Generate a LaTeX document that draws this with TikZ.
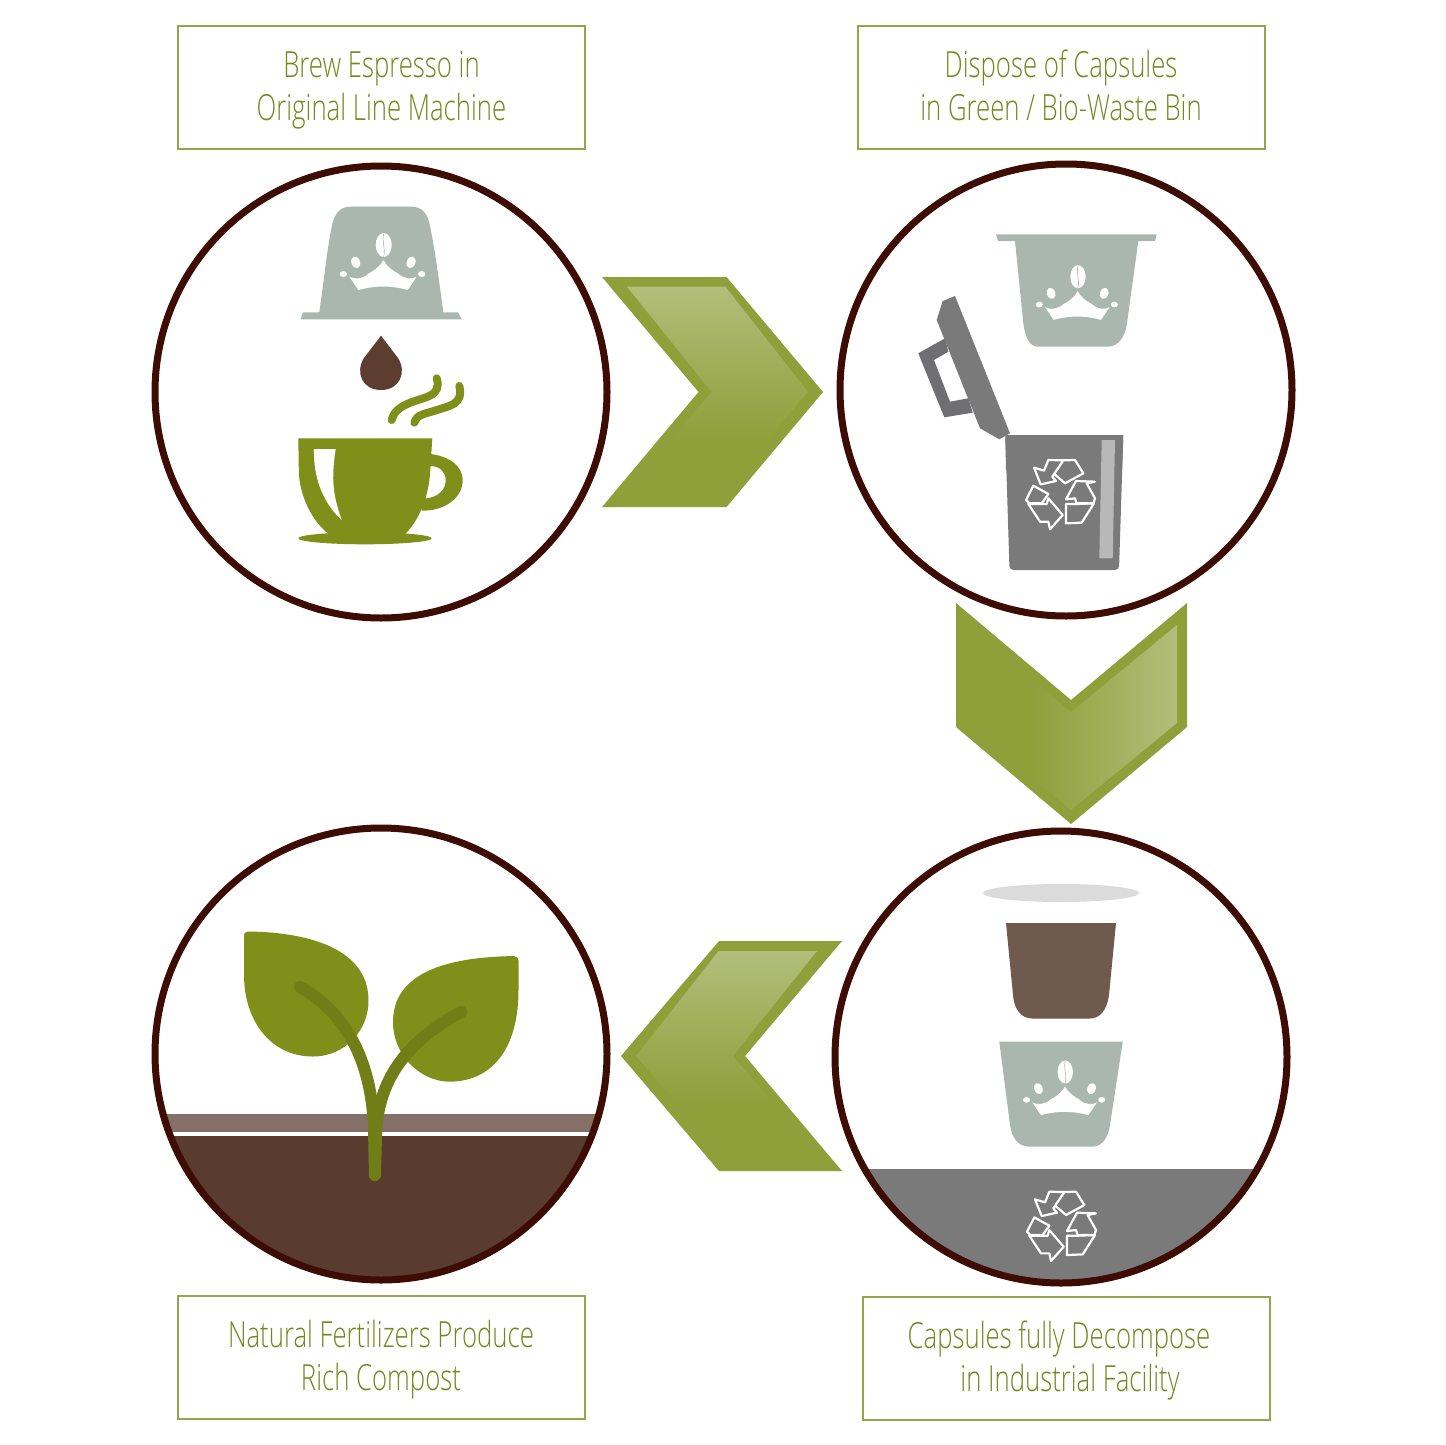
\documentclass[tikz,border=0pt]{standalone}
\usepackage{fontspec}
\setmainfont{Open Sans Light}[FakeStretch=0.715]
\definecolor{ringc}{HTML}{3D0C02}
\definecolor{leafg}{HTML}{7E8F1A}
\definecolor{stemg}{HTML}{707E17}
\definecolor{capc}{HTML}{A9B7B0}
\definecolor{greyc}{HTML}{7B7A7B}
\definecolor{handc}{HTML}{6F6E70}
\definecolor{dropc}{HTML}{5C3D30}
\definecolor{podc}{HTML}{705A4E}
\definecolor{soilc}{HTML}{5A3C2F}
\definecolor{bandc}{HTML}{857068}
\definecolor{textg}{HTML}{76871F}
\definecolor{boxg}{HTML}{94A54E}
\definecolor{chevb}{HTML}{8F9F3A}
\definecolor{chevl}{HTML}{B2BE7A}
\newcommand\lblA{\rule{0pt}{35.5pt}}
\newcommand\lblB{\rule[-12.9pt]{0pt}{12.9pt}}
\tikzset{
  ringcirc/.style={draw=ringc,line width=7pt},
  lblbox/.style={draw=boxg,line width=2pt,minimum width=407pt,minimum height=123pt,inner sep=0pt,
    align=center,text=textg,font=\fontsize{36}{43}\selectfont},
  steam/.style={draw=leafg,line width=8pt,line cap=round},
  stemline/.style={draw=stemg,line width=12pt,line cap=round},
  recyc/.style={draw=white,line width=2.2pt,line join=round},
  crownmark/.pic={
    \begin{scope}[scale=.3333,shift={(-143,-185)}]
    \fill[white] (43,155) .. controls (55,163) and (82,163) .. (100,146) .. controls (118,136) and (135,125) .. (145,105)
      .. controls (155,125) and (172,136) .. (190,146) .. controls (208,163) and (232,163) .. (245,155)
      -- (218,195) .. controls (170,181) and (120,181) .. (70,195) -- cycle;
    \fill[white] (62,112) ellipse[x radius=13,y radius=18,rotate=20];
    \fill[white] (228,112) ellipse[x radius=13,y radius=18,rotate=-20];
    \fill[white] (25,147) ellipse[x radius=11,y radius=9];
    \fill[white] (260,147) ellipse[x radius=11,y radius=9];
    \fill[white] (146,60) ellipse[x radius=24,y radius=36];
    \draw[capc,line width=.6pt] (146,26) .. controls (140,50) and (152,70) .. (146,95);
    \end{scope}
  },
  recycmark/.pic={
    \begin{scope}[scale=.3333,shift={(-120,-120)}]
    \draw[recyc] (42,38) -- (72,47) -- (85,15) -- (130,16) -- (97,65) -- (108,78) -- (62,88) -- cycle;
    \draw[recyc] (130,16) -- (165,15) -- (190,55) -- (135,85) -- (103,57);
    \draw[recyc] (18,135) -- (40,92) -- (85,117) -- (65,145) -- (28,145) -- cycle;
    \draw[recyc] (25,147) -- (60,200) -- (85,200) -- (90,223) -- (128,180) -- (85,130) -- (80,147) -- cycle;
    \draw[recyc] (225,80) -- (168,78) -- (138,133) -- (165,130) -- (170,145) -- (220,145) -- (225,130) -- (200,85) -- cycle;
    \draw[recyc] (138,147) -- (138,205) -- (185,203) -- (222,145) -- (170,147) -- cycle;
    \end{scope}
  }
}
\begin{document}
\begin{tikzpicture}[x=1pt,y=-1pt]
\useasboundingbox (0,0) rectangle (1445,1445);
\fill[white] (0,0) rectangle (1445,1445);

% text boxes
\node[lblbox] (boxa) at (381.5,87.5) {\lblA Brew Espresso in\\\lblB Original Line Machine};
\node[lblbox] (boxb) at (1061,87.5) {\lblA Dispose of Capsules\\\lblB in Green / Bio-Waste Bin};
\node[lblbox] (boxc) at (381,1357.5) {\lblA Natural Fertilizers Produce\\\lblB Rich Compost};
\node[lblbox] (boxd) at (1066.5,1358.5) {\lblA\hspace*{-15pt}Capsules fully Decompose\\\lblB\hspace*{7pt}in Industrial Facility};

% chevrons
\fill[chevb] (602,277) -- (726.5,277) -- (823,392) -- (726.5,507) -- (602,507) -- (698.5,392) -- cycle;
\shade[top color=chevl,bottom color=chevb] (627,286.7) -- (725.5,286.7) -- (808,392) -- (767,440) -- (670,440) -- (711.5,392) -- cycle;
\fill[chevb] (956,603) -- (1071,700) -- (1187,603) -- (1187,727) -- (1071,824) -- (956,727) -- cycle;
\shade[left color=chevb,right color=chevl] (1032,680) -- (1071,712) -- (1177,625) -- (1177,723) -- (1071,810) -- (1032,778) -- cycle;
\fill[chevb] (842,941) -- (719,941) -- (621,1056) -- (719,1171) -- (842,1171) -- (745,1056) -- cycle;
\shade[top color=chevl,bottom color=chevb] (817,951) -- (718.5,951) -- (636,1056) -- (677,1104) -- (774,1104) -- (733,1056) -- cycle;

% circle 1: capsule, drop, cup
\fill[capc] (300.7,319.3) -- (303,312.3) -- (319.3,312.3)
  .. controls (324,280) and (327,250) .. (331.7,226.7) .. controls (334,214) and (340,206.7) .. (350,206.7)
  -- (412,206.7) .. controls (422,206.7) and (428,214) .. (430,226)
  .. controls (435,250) and (439,280) .. (443.3,312.3) -- (458,312.3) -- (461.7,319.3) -- cycle;
\pic at (382.7,286.7) {crownmark};
\fill[dropc] (381,335.7) -- (364,358) .. controls (355,372) and (362,390) .. (381,390)
  .. controls (400,390) and (407,372) .. (398,358) -- cycle;
\draw[steam] (436.7,378.3) .. controls (442,396) and (425,397) .. (415,401) .. controls (403,405) and (394,410) .. (391.7,420);
\draw[steam] (459.3,386) .. controls (464,405) and (448,406) .. (437,410) .. controls (425,414) and (417,414) .. (414.3,422.7);
\fill[leafg,even odd rule] (430,454) .. controls (448,456) and (463,465) .. (462.7,481)
  .. controls (462,498) and (445,511) .. (421.7,510.7) -- (420,498) -- (426.7,498.3)
  .. controls (438,497) and (445.7,490) .. (445.7,480) .. controls (445.7,472) and (440,466) .. (430,466) -- cycle;
\fill[leafg] (298.3,438.3) -- (432.3,438.3) -- (430,475) .. controls (427,505) and (415,525) .. (404,535)
  -- (330,535) .. controls (312,522) and (299,495) .. (298.8,470) -- cycle;
\fill[leafg] (365,538.3) ellipse[x radius=66.7pt,y radius=6pt];
\fill[white] (314,449) -- (335.7,449) .. controls (331,480) and (333,495) .. (341.7,520)
  .. controls (325,505) and (313,480) .. (314,449) -- cycle;
\draw[ringcirc] (381,392) circle[radius=226pt];
\node[inner sep=0pt,minimum size=0pt] (circa) at (381,392) {};

% circle 2: capsule and bin
\fill[capc] (996,234.3) -- (1156.7,234.3) -- (1155,241) -- (1138.3,241) -- (1127,323)
  .. controls (1125,338) and (1118,346.7) .. (1107,346.7) -- (1038,346.7)
  .. controls (1030,346.7) and (1025,338) .. (1023.3,323) -- (1015,241) -- (998,241) -- cycle;
\pic[scale=.96] at (1077,316.7) {crownmark};
\fill[handc] (918.3,353.3) -- (945,338.3) -- (948.3,351.7) -- (934,360) -- (950,401.7) -- (968.3,398.3) -- (972.7,412.7) -- (944.3,417.3) -- cycle;
\fill[greyc] (942.7,301) -- (955,296) -- (1010,433.3) -- (999.3,439.3) -- (980,428.3) -- (936.7,320) -- cycle;
\fill[greyc,rounded corners=4pt] (1005.3,435) -- (1123.3,435) -- (1119,570) -- (1009.5,570) -- cycle;
\fill[greyc] (1005.3,435) -- (1123.3,435) -- (1122,470) -- (1006,470) -- cycle;
\fill[black!28] (1101.7,440) -- (1115,440) -- (1112.7,558.3) -- (1099.3,558.3) -- cycle;
\pic at (1060,495) {recycmark};
\draw[ringcirc] (1066,390) circle[radius=226pt];
\node[inner sep=0pt,minimum size=0pt] (circb) at (1066,390) {};

% circle 3: decomposition
\begin{scope}
\clip (1061,1057) circle[radius=226pt];
\fill[greyc] (830,1169) rectangle (1295,1290);
\end{scope}
\fill[black!14] (1061,893) ellipse[x radius=78pt,y radius=9pt];
\fill[podc] (1006,923) -- (1116,923) -- (1109,995) .. controls (1107,1010) and (1100,1018.5) .. (1090,1018.5)
  -- (1032,1018.5) .. controls (1022,1018.5) and (1014,1010) .. (1013,995) -- cycle;
\fill[capc] (999.3,1041.7) -- (1122.7,1041.7) -- (1110,1125) .. controls (1108,1138) and (1102,1146.7) .. (1092,1146.7)
  -- (1030,1146.7) .. controls (1018,1146.7) and (1012,1138) .. (1010,1125) -- cycle;
\pic[scale=.96] at (1064.3,1112) {crownmark};
\pic at (1061,1226.7) {recycmark};
\draw[ringcirc] (1061,1057) circle[radius=226pt];
\node[inner sep=0pt,minimum size=0pt] (circc) at (1061,1057) {};

% circle 4: plant
\begin{scope}
\clip (381,1054) circle[radius=226pt];
\fill[bandc] (150,1113.5) rectangle (612,1131.7);
\fill[soilc] (150,1136) rectangle (612,1285);
\end{scope}
\fill[leafg] (248,931.5) .. controls (300,932) and (368,945) .. (368.5,1000) .. controls (369,1030) and (345,1057) .. (312,1056.5)
  .. controls (270,1056) and (244,1020) .. (244,975) -- (244,936) .. controls (244,933) .. cycle;
\fill[leafg] (514,956) .. controls (465,957) and (393,965) .. (393,1022) .. controls (393,1055) and (420,1081.7) .. (450,1081.7)
  .. controls (495,1081) and (518.5,1045) .. (518.5,990) -- (518.5,961) .. controls (518.5,958) .. cycle;
\draw[stemline] (300,987) .. controls (345,1012) and (372,1060) .. (374,1130) -- (375,1175);
\draw[stemline] (461,1012) .. controls (425,1032) and (378,1065) .. (376,1135) -- (375,1175);
\draw[ringcirc] (381,1054) circle[radius=226pt];
\node[inner sep=0pt,minimum size=0pt] (circd) at (381,1054) {};
\end{tikzpicture}
\end{document}
